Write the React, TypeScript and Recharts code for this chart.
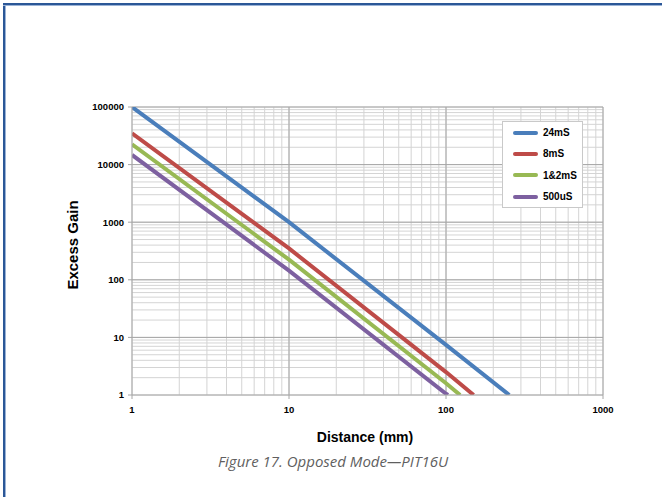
import React from "react";
import { LineChart, Line, XAxis, YAxis, CartesianGrid, ReferenceLine } from "recharts";

// distance (mm) / excess gain
const dist24 = [1, 10, 100, 253];
const gain24 = [100000, 1000, 7.4, 1];
const dist8 = [1, 10, 100, 150];
const gain8 = [35000, 350, 2.5, 1];
const dist12 = [1, 10, 100, 123];
const gain12 = [22500, 224, 1.6, 1];
const dist500 = [1, 10, 100, 103];
const gain500 = [14700, 144, 1.05, 1];

const xMajors = [1, 10, 100, 1000];
const yMajors = [1, 10, 100, 1000, 10000, 100000];
const steps = [1, 2, 3, 4, 5, 6, 7, 8, 9];

const xTicks = xMajors.flatMap((m, i) => (i < xMajors.length - 1 ? steps.map(s => s * m) : [m]));
const yTicks = yMajors.flatMap((m, i) => (i < yMajors.length - 1 ? steps.map(s => s * m) : [m]));

const toRows = (d: number[], g: number[]) => d.map((x, i) => ({ d: x, gain: g[i] }));

const series = [
  { name: "24mS", color: "#4a7ebb", data: toRows(dist24, gain24) },
  { name: "8mS", color: "#be4b48", data: toRows(dist8, gain8) },
  { name: "1&2mS", color: "#98b954", data: toRows(dist12, gain12) },
  { name: "500uS", color: "#7d60a0", data: toRows(dist500, gain500) },
];

const FONT = "'Liberation Sans', Arial, sans-serif";
const MAJOR = "#a6a6a6";
const MINOR = "#d4d4d4";

const isMajor = (v: number) => Math.abs(Math.log10(v) - Math.round(Math.log10(v))) < 1e-9;

const YTick = (p: any) => {
  const v = p.payload.value;
  if (!isMajor(v)) return null;
  return (
    <g>
      <line x1={p.x + 4} x2={p.x + 8} y1={p.y} y2={p.y} stroke={MAJOR} />
      <text x={p.x} y={p.y} dy="0.35em" textAnchor="end" fontSize={9.5} fontWeight="bold" fontFamily={FONT} fill="#000">
        {v}
      </text>
    </g>
  );
};

const XTick = (p: any) => {
  const v = p.payload.value;
  if (!isMajor(v)) return null;
  return (
    <g>
      <line x1={p.x} x2={p.x} y1={p.y - 11} y2={p.y - 7} stroke={MAJOR} />
      <text x={p.x} y={p.y} dy="0.71em" textAnchor="middle" fontSize={9.5} fontWeight="bold" fontFamily={FONT} fill="#000">
        {v}
      </text>
    </g>
  );
};

const LegendBox = () => (
  <div style={{ position: "absolute", left: 502, top: 121, width: 81, height: 87, background: "#fff", border: "1px solid #c9c9c9", boxSizing: "border-box" }}>
    {series.map(s => (
      <div key={s.name} style={{ display: "flex", alignItems: "center", height: 21.3 }}>
        <div style={{ width: 25, height: 4, borderRadius: 2, background: s.color, marginLeft: 10, marginRight: 5 }} />
        <span style={{ fontSize: 10, fontWeight: "bold", fontFamily: FONT, color: "#000" }}>{s.name}</span>
      </div>
    ))}
  </div>
);

export default function App() {
  return (
    <div style={{ position: "absolute", left: 0, top: 0, width: 662, height: 497, background: "#fff", overflow: "hidden" }}>
      <div style={{ position: "absolute", left: 3, top: 3, width: 2, height: 494, background: "#2b5797", boxShadow: "1px 0 0 #9bb3d6" }} />
      <div style={{ position: "absolute", left: 3, top: 3, width: 659, height: 2, background: "#2b5797", boxShadow: "0 1px 0 #9bb3d6" }} />
      <div style={{ position: "absolute", left: 0, top: 0 }}>
        <LineChart width={662} height={497} margin={{ top: 107, right: 59, bottom: 72, left: 0 }}>
          <CartesianGrid stroke={MINOR} strokeWidth={1} />
          <XAxis dataKey="d" type="number" scale="log" domain={[1, 1000]} ticks={xTicks} allowDataOverflow
            interval={0} height={30} tickSize={4} tickMargin={7} tickLine={false} axisLine={{ stroke: MAJOR }} tick={<XTick />} />
          <YAxis dataKey="gain" type="number" scale="log" domain={[1, 100000]} ticks={yTicks} allowDataOverflow
            interval={0} width={132} tickSize={4} tickMargin={4} tickLine={false} axisLine={{ stroke: MAJOR }} tick={<YTick />} />
          {xMajors.slice(1).map(v => <ReferenceLine key={"x" + v} x={v} stroke={MAJOR} />)}
          {yMajors.slice(1).map(v => <ReferenceLine key={"y" + v} y={v} stroke={MAJOR} />)}
          {series.map(s => (
            <Line key={s.name} data={s.data} dataKey="gain" name={s.name} stroke={s.color} strokeWidth={4}
              dot={false} type="linear" isAnimationActive={false} />
          ))}
        </LineChart>
      </div>
      <LegendBox />
      <div style={{ position: "absolute", left: 72, top: 245, transform: "translate(-50%, -50%) rotate(-90deg)", fontFamily: FONT, fontWeight: "bold", fontSize: 15, whiteSpace: "nowrap" }}>
        Excess Gain
      </div>
      <div style={{ position: "absolute", left: 365, top: 437, transform: "translate(-50%, -50%)", fontFamily: FONT, fontWeight: "bold", fontSize: 14, whiteSpace: "nowrap" }}>
        Distance (mm)
      </div>
      <div style={{ position: "absolute", left: 333, top: 461, transform: "translate(-50%, -50%)", fontFamily: "'Open Sans', sans-serif", fontStyle: "italic", fontSize: 15, color: "#5f5f5f", whiteSpace: "nowrap" }}>
        Figure 17. Opposed Mode—PIT16U
      </div>
    </div>
  );
}
